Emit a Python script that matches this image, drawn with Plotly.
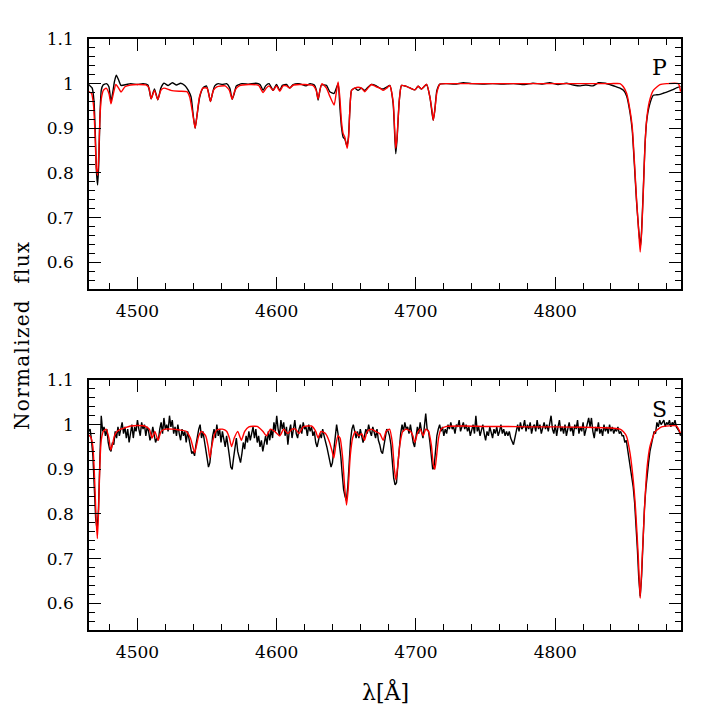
import plotly.graph_objects as go

# ---------------- data ----------------
# Panel P: observed (black) spectrum, (wavelength, flux) pairs
P_obs_wl = [4465, 4466, 4467.5, 4468.8, 4469.8, 4470.6, 4471.4, 4472.2, 4473, 4474, 4475.3, 4477.7, 4479.5, 4481, 4482.5, 4483.5, 4484.8, 4486.5, 4488.2, 4492, 4495, 4500, 4504, 4507.5, 4509.8, 4512.2, 4514.6, 4516.8, 4519, 4522, 4525, 4528, 4531, 4534, 4536.5, 4538.5, 4540, 4541.4, 4542.8, 4544.7, 4547, 4549.5, 4551, 4552.4, 4554, 4555.5, 4558, 4561, 4564, 4566.3, 4568, 4569.7, 4571, 4575, 4580, 4585, 4588, 4590.2, 4592, 4594.5, 4597.4, 4599.8, 4602.2, 4604, 4607, 4609.4, 4611.8, 4616, 4621, 4624, 4627, 4628.5, 4629.7, 4631, 4632.1, 4635.7, 4638.1, 4641.2, 4644.1, 4645.3, 4646.5, 4647.7, 4648.9, 4650.4, 4651.5, 4652.5, 4653.7, 4656, 4658.4, 4660.8, 4663.2, 4665.5, 4668, 4671.5, 4674, 4676.5, 4679, 4681.2, 4683.6, 4684.8, 4685.5, 4686.4, 4688, 4689.6, 4693, 4696, 4699.2, 4701.5, 4704, 4707.6, 4710, 4711.5, 4712.4, 4713.5, 4715, 4717.2, 4722, 4728, 4734, 4740, 4748, 4755, 4762, 4770, 4778, 4784, 4790, 4796, 4802, 4808, 4813, 4818, 4822, 4827, 4831, 4836, 4840, 4843, 4846.5, 4849, 4851.3, 4853.7, 4855.3, 4856.8, 4858.4, 4860, 4861.2, 4862, 4863.2, 4864.4, 4865.6, 4867.5, 4870.4, 4872.8, 4875.2, 4878, 4880, 4884, 4887.5, 4890]
P_obs_flux = [0.998, 0.995, 0.99, 0.96, 0.88, 0.8, 0.773, 0.82, 0.92, 0.985, 0.997, 1.0, 0.993, 0.96, 0.985, 1.005, 1.019, 1.008, 0.996, 0.998, 1.0, 0.998, 1.0, 0.997, 0.966, 0.988, 0.964, 0.99, 1.001, 0.996, 1.002, 0.997, 1.001, 0.996, 0.985, 0.97, 0.93, 0.9, 0.93, 0.97, 0.99, 0.995, 0.98, 0.96, 0.98, 0.995, 1.0, 0.998, 1.0, 0.99, 0.965, 0.98, 0.995, 1.0, 0.999, 1.001, 0.998, 0.985, 0.995, 1.0, 0.985, 0.998, 0.985, 0.996, 0.998, 0.99, 0.998, 1.0, 0.995, 1.0, 0.997, 0.985, 0.963, 0.985, 0.997, 0.996, 0.982, 0.978, 1.0, 0.95, 0.903, 0.88, 0.876, 0.86, 0.88, 0.94, 0.985, 0.99, 0.985, 0.99, 0.985, 0.992, 0.998, 0.995, 0.99, 0.988, 0.992, 0.996, 0.955, 0.88, 0.843, 0.875, 0.962, 0.996, 0.994, 0.99, 0.986, 0.994, 0.988, 0.998, 0.97, 0.935, 0.918, 0.94, 0.985, 0.999, 1.0, 0.999, 1.002, 1.0, 0.999, 1.0, 0.999, 1.0, 0.998, 1.001, 0.999, 1.002, 0.998, 1.001, 0.997, 0.995, 0.997, 0.995, 1.002, 1.001, 0.997, 0.994, 0.99, 0.985, 0.972, 0.935, 0.895, 0.82, 0.735, 0.67, 0.635, 0.67, 0.76, 0.86, 0.915, 0.95, 0.974, 0.975, 0.976, 0.979, 0.981, 0.986, 0.991, 0.994]

# Panel P: model (red) spectrum
P_mod_wl = [4465, 4467, 4468.5, 4469.5, 4470.5, 4471.4, 4472.2, 4473, 4474, 4475.5, 4477.5, 4479.5, 4481, 4482.5, 4484.5, 4486.5, 4488.2, 4491, 4495, 4500, 4506, 4508.3, 4509.8, 4512.2, 4514.6, 4516.8, 4519, 4524, 4530, 4535.5, 4537.5, 4539.8, 4541.4, 4542.8, 4544.5, 4547, 4550, 4552.4, 4554.5, 4557, 4563, 4566, 4568, 4570, 4573, 4580, 4587, 4590.2, 4592.5, 4594.5, 4597.4, 4599.8, 4602.2, 4604.5, 4607, 4609.4, 4612, 4620, 4626, 4628.3, 4629.7, 4631, 4632.5, 4635.7, 4638.1, 4641.2, 4643, 4644.1, 4645.3, 4646.5, 4647.7, 4648.9, 4650.6, 4651.6, 4652.5, 4653.7, 4656, 4658.4, 4660.8, 4663.2, 4665.5, 4668, 4671.5, 4674, 4676.5, 4679, 4681.2, 4683.6, 4684.8, 4685.5, 4686.4, 4688, 4689.6, 4693, 4696, 4699.2, 4701.5, 4704, 4707.6, 4710, 4711.5, 4712.4, 4713.5, 4715, 4717.2, 4725, 4800, 4840, 4846.5, 4848.9, 4851.3, 4853.7, 4855.3, 4856.8, 4858.4, 4860, 4861, 4862, 4863.2, 4864.4, 4865.6, 4867.5, 4870.4, 4875.2, 4880, 4888.4, 4890]
P_mod_flux = [0.982, 0.978, 0.95, 0.89, 0.81, 0.795, 0.84, 0.92, 0.965, 0.985, 0.99, 0.978, 0.955, 0.975, 0.998, 0.99, 0.981, 0.993, 0.997, 0.998, 0.997, 0.99, 0.966, 0.985, 0.964, 0.985, 0.99, 0.985, 0.983, 0.982, 0.97, 0.93, 0.9, 0.93, 0.97, 0.99, 0.99, 0.96, 0.985, 0.993, 0.995, 0.985, 0.965, 0.985, 0.995, 0.998, 0.996, 0.98, 0.99, 0.995, 0.985, 0.995, 0.983, 0.995, 0.995, 0.99, 0.997, 0.998, 0.996, 0.985, 0.966, 0.985, 1.0, 0.99, 0.972, 0.952, 0.985, 1.004, 0.97, 0.915, 0.888, 0.88, 0.855, 0.88, 0.94, 0.985, 0.99, 0.992, 0.99, 0.982, 0.99, 0.998, 0.993, 0.99, 0.985, 0.99, 0.996, 0.96, 0.89, 0.855, 0.88, 0.962, 0.996, 0.994, 0.99, 0.986, 0.994, 0.988, 0.999, 0.97, 0.94, 0.918, 0.94, 0.98, 0.999, 1.0, 1.0, 1.0, 1.0, 0.993, 0.978, 0.94, 0.903, 0.828, 0.74, 0.665, 0.623, 0.665, 0.754, 0.858, 0.918, 0.959, 0.985, 0.998, 1.0, 1.0, 0.982]

# Panel S: observed (black) spectrum, sampled every 1 A from 4465 to 4890
S_obs_start = 4465
S_obs_flux = [
    0.985, 0.99, 0.965, 0.93, 0.86, 0.79, 0.765, 0.81, 0.92, 1.02,
    0.985, 0.995, 0.975, 0.99, 0.96, 0.945, 0.94, 0.96, 0.955, 0.985,
    0.97, 0.995, 0.975, 0.99, 1.005, 0.98, 0.995, 0.97, 0.99, 0.96,
    0.985, 1.0, 0.97, 0.995, 0.985, 1.01, 0.99, 0.975, 1.005, 0.99,
    1.0, 0.975, 0.995, 0.985, 0.965, 0.975, 0.995, 0.975, 0.96, 0.97,
    0.965, 0.99, 1.005, 0.98, 1.015, 0.99, 1.0, 0.985, 1.02, 0.995,
    1.01, 0.98, 0.995, 0.975, 1.0, 0.98, 0.965, 0.99, 0.975, 0.985,
    0.96, 0.985, 0.97, 0.955, 0.935, 0.94, 0.93, 0.955, 0.975, 0.99,
    1.0, 0.97, 0.985, 0.96, 0.945, 0.925, 0.905, 0.915, 0.955, 0.975,
    0.99, 0.97, 1.0, 0.975, 0.99, 0.96, 0.985, 0.97, 0.95, 0.975,
    0.945, 0.93, 0.905, 0.9, 0.925, 0.955, 0.97, 0.94, 0.925, 0.915,
    0.935, 0.96, 0.945, 0.975, 0.96, 0.985, 0.965, 0.98, 0.995, 0.97,
    0.99, 0.96, 0.975, 0.95, 0.965, 0.94, 0.96, 0.975, 0.955, 0.985,
    0.965, 0.99, 0.97, 1.005, 0.985, 1.02, 0.99, 0.975, 1.01, 0.99,
    1.005, 0.975, 0.995, 0.955, 0.985, 1.0, 0.97, 0.99, 1.01, 0.98,
    0.97, 0.99, 1.0, 0.98, 1.005, 0.99, 0.995, 0.975, 1.0, 0.985,
    0.995, 0.975, 0.985, 0.96, 0.95, 0.965, 0.98, 0.97, 0.99, 0.975,
    0.965, 0.95, 0.935, 0.92, 0.905, 0.915, 0.94, 0.97, 1.0, 0.98,
    0.96, 0.93, 0.89, 0.855, 0.84, 0.83, 0.86, 0.92, 0.965, 0.99,
    1.0, 0.985, 0.97, 0.985, 0.97, 0.99, 0.975, 0.96, 0.975, 0.99,
    0.98, 1.0, 0.985, 0.975, 0.995, 0.98, 0.97, 0.99, 0.965, 0.955,
    0.94, 0.935, 0.955, 0.975, 0.99, 0.985, 0.975, 0.955, 0.92, 0.88,
    0.865, 0.87, 0.91, 0.955, 0.98, 1.0, 0.985, 1.005, 0.99, 0.995,
    0.98, 1.0, 0.975, 0.96, 0.95, 0.97, 0.995, 0.98, 1.005, 0.985,
    0.97, 0.995, 1.025, 0.99, 0.985, 0.96, 0.935, 0.9, 0.905, 0.94,
    0.975, 0.99, 1.0, 0.985, 0.995, 0.975, 0.99, 0.98, 1.0, 0.99,
    1.005, 0.99, 0.995, 0.98, 1.0, 0.995, 1.01, 0.985, 0.995, 1.005,
    0.99, 1.0, 0.985, 0.995, 0.975, 0.99, 1.0, 0.98, 1.02, 0.985,
    0.995, 0.975, 0.99, 1.0, 0.98, 0.965, 0.985, 0.975, 0.995, 0.985,
    0.97, 0.99, 0.98, 0.995, 0.975, 0.985, 1.0, 0.98, 0.99, 0.975,
    0.985, 0.975, 0.985, 0.97, 0.96, 0.955, 0.97, 0.99, 1.0, 0.985,
    1.005, 0.99, 0.995, 1.01, 0.985, 1.0, 0.99, 1.005, 0.98, 0.995,
    1.0, 0.985, 1.01, 0.99, 1.0, 0.98, 0.995, 1.005, 0.99, 1.0,
    0.985, 1.005, 1.02, 0.99, 0.98, 1.0, 0.975, 0.995, 1.01, 0.985,
    0.995, 0.98, 1.0, 0.975, 0.99, 1.005, 0.985, 0.995, 0.975, 1.0,
    0.99, 1.01, 0.98, 0.995, 0.985, 1.005, 0.975, 0.99, 1.0, 1.015,
    0.995, 1.015, 0.985, 0.97, 0.995, 0.985, 1.005, 0.98, 0.99, 0.975,
    1.0, 0.985, 0.995, 0.98, 1.0, 0.985, 0.995, 0.98, 0.99, 0.985,
    0.995, 0.98, 0.985, 0.975, 0.975, 0.96, 0.965, 0.945, 0.93, 0.91,
    0.89, 0.86, 0.825, 0.78, 0.72, 0.655, 0.615, 0.66, 0.74, 0.81,
    0.855, 0.89, 0.915, 0.94, 0.955, 0.965, 0.985, 0.98, 1.005, 0.995,
    1.01, 1.0, 1.005, 1.01, 0.995, 1.005, 1.0, 1.01, 0.995, 1.005,
    1.0, 1.01, 0.995, 0.99, 0.985, 0.975,
]
S_obs_wl = [S_obs_start + i for i in range(len(S_obs_flux))]

# Panel S: model (red) spectrum
S_mod_wl = [4465, 4466.5, 4468, 4469.2, 4470.3, 4471.2, 4472, 4473, 4474, 4475.5, 4477.5, 4479.5, 4480.8, 4482, 4483.5, 4485.5, 4488, 4491, 4495, 4500, 4505, 4508.5, 4510.5, 4512.5, 4514.8, 4517, 4520, 4525, 4530, 4535, 4538, 4539.8, 4541.1, 4542.5, 4544, 4546, 4549, 4550.8, 4552, 4553.3, 4555, 4557, 4561, 4564, 4566, 4567.6, 4569.5, 4572, 4574.6, 4577, 4580, 4586, 4590, 4592.6, 4595.5, 4598.5, 4602.2, 4605, 4608, 4611, 4613.5, 4616, 4619, 4625, 4628, 4629.7, 4631.8, 4635, 4638, 4639.8, 4641, 4642.5, 4644, 4645.5, 4647.2, 4648.8, 4650.1, 4651.3, 4652.8, 4654.5, 4656.5, 4659, 4661, 4663, 4665, 4668, 4671, 4674, 4676.5, 4678.5, 4681, 4683, 4684.5, 4685.6, 4686.8, 4688.4, 4690.5, 4693, 4696, 4697.8, 4699.2, 4701, 4703, 4705.2, 4707, 4709, 4711, 4712.5, 4713.6, 4714.8, 4716.2, 4718, 4722, 4735, 4750, 4765, 4780, 4800, 4820, 4835, 4842, 4846.5, 4849, 4851.3, 4853.7, 4856, 4857.7, 4859.6, 4861, 4862.5, 4864.4, 4866, 4868, 4871.6, 4876.4, 4887, 4890]
S_mod_flux = [0.977, 0.972, 0.95, 0.88, 0.79, 0.745, 0.8, 0.91, 0.965, 0.985, 0.99, 0.97, 0.943, 0.955, 0.975, 0.985, 0.99, 0.993, 0.997, 0.998, 0.997, 0.99, 0.97, 0.985, 0.965, 0.985, 0.99, 0.99, 0.988, 0.985, 0.97, 0.95, 0.937, 0.955, 0.975, 0.985, 0.975, 0.95, 0.925, 0.95, 0.975, 0.988, 0.99, 0.985, 0.97, 0.951, 0.97, 0.985, 0.965, 0.985, 0.995, 0.996, 0.985, 0.975, 0.99, 0.985, 0.975, 0.99, 0.98, 0.99, 0.99, 0.98, 0.995, 0.997, 0.985, 0.97, 0.985, 0.98, 0.96, 0.94, 0.925, 0.955, 0.975, 0.97, 0.93, 0.86, 0.82, 0.855, 0.93, 0.97, 0.985, 0.975, 0.98, 0.965, 0.985, 0.99, 0.985, 0.98, 0.965, 0.985, 0.99, 0.96, 0.9, 0.876, 0.905, 0.955, 0.985, 0.99, 0.985, 0.975, 0.96, 0.98, 0.99, 0.975, 0.99, 0.985, 0.955, 0.91, 0.9, 0.93, 0.97, 0.99, 0.996, 0.997, 0.996, 0.996, 0.995, 0.995, 0.994, 0.993, 0.992, 0.99, 0.984, 0.973, 0.936, 0.876, 0.81, 0.705, 0.611, 0.705, 0.83, 0.906, 0.951, 0.984, 0.995, 0.997, 0.98]

x_tick_vals = [4500, 4600, 4700, 4800]
x_tick_text = ["4500", "4600", "4700", "4800"]
y_tick_vals = [0.6, 0.7, 0.8, 0.9, 1.0, 1.1]
y_tick_text = ["0.6", "0.7", "0.8", "0.9", "1", "1.1"]
panel_labels = ["P", "S"]

# ---------------- figure ----------------
FONT = "DejaVu Serif"
fig = go.Figure()

LW = 1.4
fig.add_trace(go.Scatter(x=P_obs_wl, y=P_obs_flux, mode="lines", line=dict(color="black", width=LW, shape="spline", smoothing=0.5), xaxis="x", yaxis="y", showlegend=False))
fig.add_trace(go.Scatter(x=P_mod_wl, y=P_mod_flux, mode="lines", line=dict(color="#ff0000", width=LW, shape="spline", smoothing=0.5), xaxis="x", yaxis="y", showlegend=False))
fig.add_trace(go.Scatter(x=S_obs_wl, y=S_obs_flux, mode="lines", line=dict(color="black", width=LW), xaxis="x2", yaxis="y2", showlegend=False))
fig.add_trace(go.Scatter(x=S_mod_wl, y=S_mod_flux, mode="lines", line=dict(color="#ff0000", width=LW, shape="spline", smoothing=0.5), xaxis="x2", yaxis="y2", showlegend=False))

xrng = [4465.2, 4890.3]
yrng = [0.54, 1.1]

def xaxis(anchor):
    return dict(range=xrng, anchor=anchor, showgrid=False, zeroline=False,
                showline=True, linecolor="black", linewidth=1.5, mirror="allticks",
                ticks="inside", ticklen=12, tickwidth=1.3, tickcolor="black",
                tickvals=x_tick_vals, ticktext=x_tick_text,
                minor=dict(ticks="inside", dtick=20, tick0=4500, ticklen=6, tickwidth=1.3, tickcolor="black", showgrid=False),
                tickfont=dict(family=FONT, size=17, color="black"), ticklabelstandoff=6)

def yaxis(anchor, domain):
    return dict(range=yrng, anchor=anchor, domain=domain, showgrid=False, zeroline=False,
                showline=True, linecolor="black", linewidth=1.5, mirror="allticks",
                ticks="inside", ticklen=12, tickwidth=1.3, tickcolor="black",
                tickvals=y_tick_vals, ticktext=y_tick_text,
                minor=dict(ticks="inside", dtick=0.02, tick0=0.6, ticklen=6, tickwidth=1.3, tickcolor="black", showgrid=False),
                tickfont=dict(family=FONT, size=17, color="black"), ticklabelstandoff=10)

# the page adds an 8 px body margin, compensated here
OFF = 8
L, R, T, B = 89 - OFF, 37 + OFF, 39 - OFF, 88 + OFF
H = 718 - T - B
PW = 718 - L - R

def ann(text, px, py, size, angle=0, style=None):
    if style:
        text = '<span style="%s">%s</span>' % (style, text)
    return dict(text=text, x=(px - OFF - L) / PW, y=(718 + OFF - B - py) / H,
                xref="paper", yref="paper", xanchor="center", yanchor="middle",
                textangle=angle, showarrow=False,
                font=dict(family=FONT, size=size, color="black"))

fig.update_layout(
    width=718, height=718,
    margin=dict(l=L, r=R, t=T, b=B),
    paper_bgcolor="white", plot_bgcolor="white",
    xaxis=xaxis("y"),
    yaxis=yaxis("x", [(630 - 289) / H, 1.0]),
    xaxis2=xaxis("y2"),
    yaxis2=yaxis("x2", [0.0, (630 - 380) / H]),
    annotations=[
        ann(panel_labels[0], 659, 67, 22),
        ann(panel_labels[1], 659, 410, 22),
        ann("Normalized  flux", 22, 336, 20, angle=-90, style="letter-spacing:1.3px"),
        ann("λ[Å]", 385, 691, 22),
    ],
)

fig.write_html("out.html")
